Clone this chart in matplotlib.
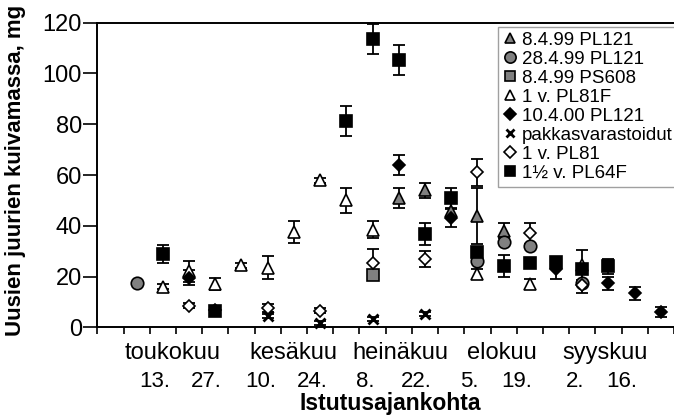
import matplotlib
matplotlib.use("Agg")
import matplotlib.pyplot as plt
import matplotlib.transforms as mtransforms
from matplotlib.lines import Line2D
import numpy as np

plt.rcParams['font.family'] = ['Liberation Sans', 'DejaVu Sans']

# week index (0 = first week of May), root dry mass (mg), error
tri_gray_x = [11, 12, 13, 14, 15]
tri_gray_y = [51, 54, 46, 44, 38]
tri_gray_e = [4, 3, 0, 11, 3]

circ_gray_x = [1, 14, 15, 16, 18]
circ_gray_y = [17.6, 26, 33.7, 32, 17.5]
circ_gray_e = [0, 0, 0, 0, 4]

sq_gray_x = [10]
sq_gray_y = [20.6]
sq_gray_e = [0]

tri_open_x = [2, 3, 4, 5, 6, 7, 8, 9, 10, 14, 16, 18]
tri_open_y = [16, 22, 17, 24.5, 23.5, 37.5, 58, 50, 38.5, 21, 17, 24.5]
tri_open_e = [1, 4, 2.5, 1, 4.5, 4.2, 1, 4.8, 3.5, 2, 2, 6]

dia_black_x = [3, 11, 13, 17, 19, 20, 21]
dia_black_y = [19.5, 64, 43, 23, 17.3, 13.4, 6.1]
dia_black_e = [3, 4, 3.5, 4, 2.6, 2.5, 2]

xmark_x = [6, 8, 10, 12]
xmark_y = [4.5, 1.6, 3.1, 5.2]
xmark_e = [0.8, 0.8, 0.8, 0.8]

dia_open_x = [3, 4, 6, 8, 10, 12, 14, 16, 18]
dia_open_y = [8.5, 7, 7.5, 6.5, 25.5, 27, 61, 37, 16.7]
dia_open_e = [1, 1, 1.5, 1, 5.5, 3.2, 5.5, 4, 0]

sq_black_x = [2, 4, 9, 10, 11, 12, 13, 14, 15, 16, 17, 18, 19]
sq_black_y = [29, 6.5, 81.3, 113.5, 105.3, 36.6, 51, 29.8, 24.3, 25.2, 25.8, 23, 24.1]
sq_black_e = [3.6, 1, 6, 6, 6, 4.3, 4, 0, 4.3, 0, 0, 0, 3]

labels = ["8.4.99 PL121", "28.4.99 PL121", "8.4.99 PS608", "1 v. PL81F",
          "10.4.00 PL121", "pakkasvarastoidut", "1 v. PL81", "1\u00bd v. PL64F"]

months = ["toukokuu", "kes\u00e4kuu", "hein\u00e4kuu", "elokuu", "syyskuu"]
month_pos = [2.37, 6.98, 11.05, 14.93, 18.88]
days = ["13.", "27.", "10.", "24.", "8.", "22.", "5.", "19.", "2.", "16."]
day_pos = [1.69, 3.67, 5.72, 7.70, 9.72, 11.67, 13.71, 15.50, 17.74, 19.51]

gray = '#808080'
styles = [
    dict(marker='^', mfc=gray, ms=8),
    dict(marker='o', mfc=gray, ms=9),
    dict(marker='s', mfc=gray, ms=8),
    dict(marker='^', mfc='white', ms=8),
    dict(marker='D', mfc='black', ms=6.5),
    dict(marker='x', mfc='black', ms=7),
    dict(marker='D', mfc='white', ms=6.5),
    dict(marker='s', mfc='black', ms=8),
]
series = [
    (tri_gray_x, tri_gray_y, tri_gray_e),
    (circ_gray_x, circ_gray_y, circ_gray_e),
    (sq_gray_x, sq_gray_y, sq_gray_e),
    (tri_open_x, tri_open_y, tri_open_e),
    (dia_black_x, dia_black_y, dia_black_e),
    (xmark_x, xmark_y, xmark_e),
    (dia_open_x, dia_open_y, dia_open_e),
    (sq_black_x, sq_black_y, sq_black_e),
]

W, H = 674, 417
fig = plt.figure(figsize=(W / 100, H / 100), dpi=100)
ax = fig.add_axes([97.3 / W, (H - 327.3) / H, (W - 97.3) / W, (327.3 - 22.7) / H])

handles = []
for (xs, ys, es), st in zip(series, styles):
    es = np.array(es, dtype=float)
    es[es == 0] = np.nan
    ax.errorbar(xs, ys, yerr=es, fmt='none', ecolor='black', elinewidth=1.3,
                capsize=4.2, capthick=1.3, zorder=2, clip_on=False)
    mew = 2 if st['marker'] == 'x' else 1.2
    ax.plot(xs, ys, linestyle='none', marker=st['marker'], ms=st['ms'],
            mfc=st['mfc'], mec='black', mew=mew, zorder=3, clip_on=False)
    handles.append(Line2D([], [], linestyle='none', marker=st['marker'],
                          ms=st['ms'] * 0.9, mfc=st['mfc'], mec='black', mew=mew))

ax.set_xlim(-0.5, -0.5 + (W - 97.3) / 26.3)
ax.set_ylim(0, 120)
ax.set_xticks(np.arange(-0.5, 22, 1))
ax.set_xticklabels([])
ax.set_yticks(np.arange(0, 121, 20))
ax.tick_params(axis='y', direction='out', length=10, width=1.2, labelsize=17, pad=1)
ax.tick_params(axis='x', direction='out', length=5, width=1.2)
for s in ['left', 'bottom', 'top']:
    ax.spines[s].set_linewidth(1.4)
ax.spines['right'].set_visible(False)

leg = ax.legend(handles, labels, loc='upper left',
                bbox_to_anchor=((498.3 - 97.3) / (W - 97.3), (327.3 - 27) / (327.3 - 22.7)),
                borderaxespad=0, fontsize=13.5, labelspacing=0.1, handlelength=0.7,
                handletextpad=0.3, borderpad=0.25, frameon=True, fancybox=False)
leg.get_frame().set_edgecolor('#888888')
leg.get_frame().set_linewidth(1.0)

trans = mtransforms.blended_transform_factory(ax.transData, fig.transFigure)
for m, p in zip(months, month_pos):
    ax.text(p, 1 - 359 / H, m, transform=trans, ha='center', va='baseline', fontsize=17)
for d, p in zip(days, day_pos):
    ax.text(p, 1 - 386.7 / H, d, transform=trans, ha='center', va='baseline', fontsize=16)

fig.text(390 / W, 1 - 410 / H, "Istutusajankohta", ha='center', va='baseline',
         fontsize=16.5, fontweight='bold')
fig.text(16 / W, 1 - 170 / H, "Uusien juurien kuivamassa, mg", ha='center', va='center',
         rotation=90, fontsize=16, fontweight='bold')

fig.savefig('out.png', dpi=100)
